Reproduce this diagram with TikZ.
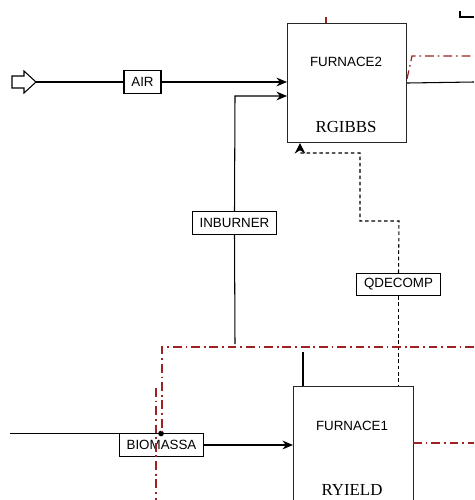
\documentclass[tikz,border=0pt]{standalone}
\usepackage{fontspec}
\setmainfont{Liberation Sans}
\newfontfamily\blockfont{Liberation Serif}
\usetikzlibrary{arrows.meta}
\definecolor{heatred}{RGB}{158,34,34}
\begin{document}
\begin{tikzpicture}[x=0.02cm,y=-0.02cm,font=\fontsize{7.6}{9}\selectfont,line width=0.6pt,
  stream/.style={draw,fill=white,inner xsep=4.2pt,inner ysep=0pt,minimum height=12.6pt},
  block/.style={draw,black!85,minimum width=2.38cm,minimum height=2.38cm,anchor=north west},
  flow/.style={-{Stealth[length=6pt,width=5pt]}},
  heat/.style={dash pattern=on 2pt off 1.6pt},
  bound/.style={heatred,line width=0.7pt,dash pattern=on 5pt off 2.2pt on 1pt off 2.2pt}]
\useasboundingbox (0,0) rectangle (474,500);
\clip (0,0) rectangle (474,500);
\node[block] (f2) at (287,23) {};
\node[block,minimum width=2.4cm,minimum height=3cm] (f1) at (293,386) {};
\node (f2name) at (346,62) {FURNACE2}; \node[font=\blockfont\fontsize{9.6}{11}\selectfont] (f2type) at (346,127) {RGIBBS};
\node (f1name) at (352,426) {FURNACE1}; \node[font=\blockfont\fontsize{9.6}{11}\selectfont] (f1type) at (352,490) {RYIELD};
\foreach \n/\p/\t in {air/{(142.5,82)}/AIR,inb/{(234.5,223)}/INBURNER,qd/{(398.5,284.5)}/QDECOMP,bio/{(161.5,445)}/BIOMASSA}
  \node[stream] (\n) at \p {\t};
% feeds
\draw[fill=white] (12,76) -- (24,76) -- (24,71) -- (36,82) -- (24,93) -- (24,88) -- (12,88) -- cycle;
\coordinate (airin) at (36,82);
\draw (airin) -- (air.west); \draw[flow] (air.east) -- (air.east -| f2.west);
\coordinate (inb0) at (235,344); \coordinate (inb1) at (235,96);
\draw (inb0) -- (inb.south); \draw[flow] (inb.north) -- (inb1) -- (inb1 -| f2.west);
\coordinate (bioin) at (10,433);
\draw (bioin |- bio.north west) -- (bio.north west); \draw[flow] (bio.east) -- (bio.east -| f1.west);
\fill (161,433.5) circle (1.6pt);
% heat stream
\coordinate (q1) at (399,221); \coordinate (q2) at (360,221); \coordinate (q3) at (360,153); \coordinate (q4) at (300,153);
\draw[heat] (qd.south) -- (qd.south |- f1.north);
\draw[heat,-{Stealth[length=6pt,width=6pt]}] (qd.north) -- (q1) -- (q2) -- (q3) -- (q4) -- (q4 |- f2.south);
% products
\coordinate (f1top) at (303,352); \draw (f1top) -- (f1top |- f1.north);
\coordinate (f2out) at (474,82); \draw (f2.east) -- (f2out);
\draw (460,11) -- (460,17) -- (474,17);
% flowsheet boundaries
\draw[heatred,line width=0.8pt] (326,17) -- (326,23);
\draw[bound] (407,79) -- (412,56) -- (474,56);
\draw[bound] (474,347) -- (162,347) -- (162,432);
\draw[bound] (156,388) -- (156,500);
\draw[bound] (413,443) -- (474,443);
\end{tikzpicture}
\end{document}
